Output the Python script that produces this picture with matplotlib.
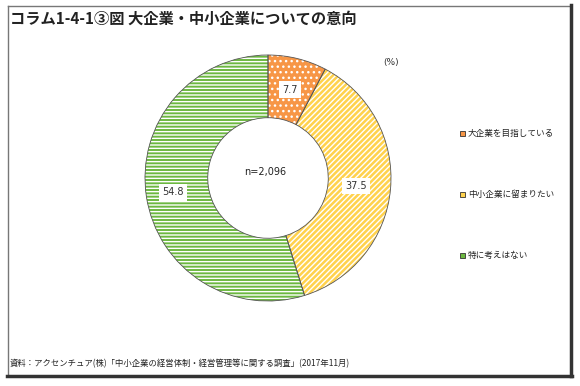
import matplotlib
matplotlib.use("Agg")
import matplotlib.pyplot as plt
from matplotlib.patches import Rectangle
import numpy as np

plt.rcParams['font.family'] = ['Noto Sans CJK JP', 'DejaVu Sans']
plt.rcParams['hatch.linewidth'] = 1.0

# data
categories = ["大企業を目指している", "中小企業に留まりたい", "特に考えはない"]
values = [7.7, 37.5, 54.8]
colors = ["#F79646", "#FFD24D", "#6CB840"]
hatches = ["...", "//////", "-----"]

title = "コラム1-4-1③図 大企業・中小企業についての意向"
source = "資料：アクセンチュア(株)「中小企業の経営体制・経営管理等に関する調査」(2017年11月)"
n_label = "n=2,096"

fig = plt.figure(figsize=(5.8, 3.86), dpi=100)
fig.patch.set_facecolor("white")

# frame around the chart (thin top/left, heavy right/bottom)
frame = fig.add_axes([0, 0, 1, 1])
frame.set_xlim(0, 580)
frame.set_ylim(386, 0)
frame.axis("off")
frame.plot([8, 570], [6, 6], color="#777777", lw=1.0)
frame.plot([8, 8], [6, 375], color="#777777", lw=1.0)
frame.plot([570.5, 570.5], [5, 376], color="#333333", lw=2.5)
frame.plot([7, 571.5], [375.5, 375.5], color="#333333", lw=2.5)

fig.text(10 / 580, 1 - 19 / 386, title, fontsize=11, fontweight="bold",
         va="center", ha="left", color="#222222")
fig.text(10 / 580, 1 - 364 / 386, source, fontsize=6, va="center", ha="left",
         color="#222222")

# donut
cx, cy, R = 268, 178, 123
ax = fig.add_axes([(cx - R) / 580, 1 - (cy + R) / 386, 2 * R / 580, 2 * R / 386])
wedges, _ = ax.pie(values, colors=colors, startangle=90, counterclock=False,
                   radius=1.0, wedgeprops=dict(width=0.51, edgecolor="white", linewidth=0))
for w, h in zip(wedges, hatches):
    w.set_hatch(h)
# outlines on top
ax.pie(values, colors=["none"] * 3, startangle=90, counterclock=False, radius=1.0,
       wedgeprops=dict(width=0.51, edgecolor="#555555", linewidth=0.6, fill=False))
ax.set_xlim(-1, 1)
ax.set_ylim(-1, 1)

start = 90.0
label_r = [0.74, 0.72, 0.78]
for v, r in zip(values, label_r):
    mid = start - v / 100 * 360 / 2
    x = r * np.cos(np.radians(mid))
    y = r * np.sin(np.radians(mid))
    ax.text(x, y, f"{v:.1f}", ha="center", va="center", fontsize=7, color="#333333",
            family=["DejaVu Sans"],
            bbox=dict(boxstyle="square,pad=0.35", facecolor="white", edgecolor="none"))
    start -= v / 100 * 360

ax.text(-0.02, 0.05, n_label, ha="center", va="center", fontsize=7, color="#222222",
        family=["DejaVu Sans"])

fig.text(391 / 580, 1 - 63 / 386, "(%)", fontsize=6.5, ha="center", va="center",
         color="#333333", family=["DejaVu Sans"])

# legend
leg_y = [133, 194, 255]
for c, lab, y in zip(colors, categories, leg_y):
    frame.add_patch(Rectangle((460, y - 2.5), 5, 5, facecolor=c, edgecolor="#333333", lw=0.6))
    frame.text(468, y, lab, fontsize=6.2, va="center", ha="left", color="#222222")

fig.savefig("out.png", dpi=100)
